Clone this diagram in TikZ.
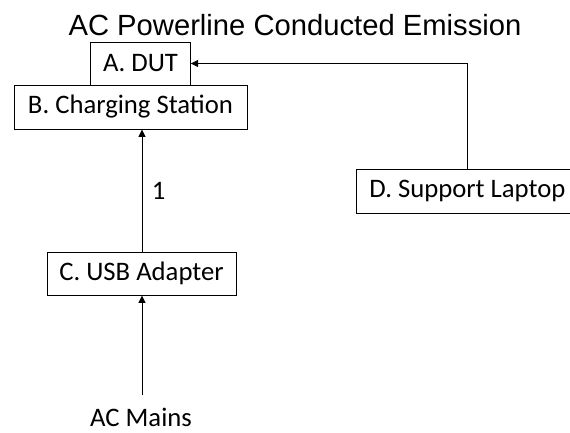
\documentclass[tikz,border=0pt]{standalone}
\usepackage{fontspec}
\setmainfont{Carlito}
\newfontfamily\titlefont{Liberation Sans}
\usetikzlibrary{arrows.meta}

\begin{document}
\begin{tikzpicture}[x=1pt, y=-1pt,
        box/.style={draw, line width=0.9pt, inner sep=0pt, minimum height=43pt,
            font=\fontsize{26.7}{32}\selectfont},
        link/.style={line width=0.9pt, -{Triangle[length=7.5pt, width=7pt]}}]
    \useasboundingbox (0,0) rectangle (570,432);

    % Title
    \node[anchor=base, inner sep=0pt, font=\titlefont\fontsize{29.2}{34}\selectfont]
        (title) at (295,35) {AC Powerline Conducted Emission};

    % Equipment boxes
    \node[box, minimum width=99.5pt] (dut) at (140.5,63.5) {A. DUT};
    \node[box, minimum width=233pt, minimum height=44pt] (station) at (130.5,107) {B. Charging Station};
    \node[box, minimum width=189pt] (adapter) at (141.5,273.5) {C. USB Adapter};
    \node[box, minimum width=223pt, minimum height=44pt] (laptop) at (467.5,191) {D. Support Laptop};
    \node[inner sep=0pt, font=\fontsize{26.7}{32}\selectfont] (mains) at (141,417) {AC Mains};

    % Cables
    \coordinate (mainsTop) at (142,395);
    \draw[link] (mainsTop) -- (mainsTop |- adapter.south);
    \draw[link] (142,252) coordinate (adapterTop) -- (adapterTop |- station.south)
        node[pos=0.5, right=6pt, font=\fontsize{26.7}{32}\selectfont] (cable1) {1};
    \draw[link] (laptop.north) |- (dut.east);
\end{tikzpicture}
\end{document}
